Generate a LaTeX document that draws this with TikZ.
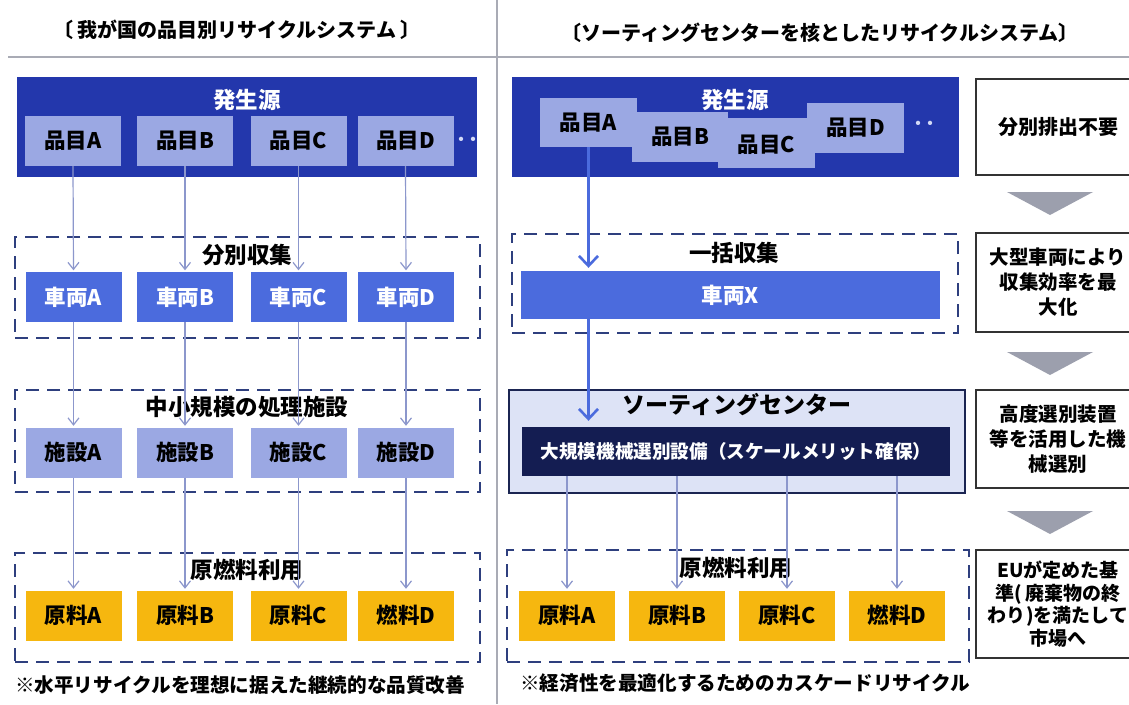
\documentclass[tikz,border=0pt]{standalone}
\usepackage{fontspec}
\setmainfont{Noto Sans CJK JP}
\usetikzlibrary{arrows.meta}
\definecolor{genblue}{HTML}{2337AC}
\definecolor{lightblue}{HTML}{9BA8E3}
\definecolor{carblue}{HTML}{4B6BDD}
\definecolor{gold}{HTML}{F6B70F}
\definecolor{scbg}{HTML}{DDE3F6}
\definecolor{scborder}{HTML}{1B2552}
\definecolor{innernavy}{HTML}{141D52}
\definecolor{dashnavy}{HTML}{2E3F7E}
\definecolor{rulegrey}{HTML}{A9ABB5}
\definecolor{trigrey}{HTML}{9C9FAD}
\definecolor{thinline}{HTML}{8C97CC}
\definecolor{dotblue}{HTML}{D3D9F6}
\definecolor{sideborder}{HTML}{333333}
\tikzset{
  box/.style={draw=none, minimum width=96pt, minimum height=50pt, inner sep=0pt,
    font=\bfseries\fontsize{21.5}{25}\selectfont},
  itembox/.style={box, fill=lightblue, text=black},
  carbox/.style={box, fill=carblue, text=white},
  facbox/.style={box, fill=lightblue, text=black},
  matbox/.style={box, fill=gold, text=black},
  srcbox/.style={fill=genblue, draw=none, inner sep=0pt},
  srctitle/.style={text=white, inner sep=0pt, font=\bfseries\fontsize{22.5}{26}\selectfont},
  dashbox/.style={draw=dashnavy, dash pattern=on 13pt off 8pt, line width=2.6pt, inner sep=0pt},
  grouptitle/.style={text=black, inner sep=0pt, font=\bfseries\fontsize{22.5}{26}\selectfont},
  titletext/.style={text=black, inner sep=0pt, font=\bfseries\fontsize{20}{24}\selectfont},
  notetext/.style={text=black, inner sep=0pt, anchor=west, font=\bfseries\fontsize{19.6}{23}\selectfont},
  sidebox/.style={draw=sideborder, line width=1.5pt, fill=white, align=center, inner sep=0pt,
    minimum width=164pt},
  rule/.style={draw=rulegrey, line width=2pt},
  tri/.style={fill=trigrey},
  thinarrow/.style={draw=thinline, line width=1.2pt, -{Straight Barb[length=7pt,width=11pt]}},
  thickarrow/.style={draw=carblue, line width=2.6pt, -{Straight Barb[length=10pt,width=19pt]}},
  dots/.style={text=dotblue, inner sep=0pt, font=\bfseries\fontsize{24}{26}\selectfont},
}
\begin{document}
\begin{tikzpicture}[x=1pt,y=-1pt]
\useasboundingbox (0,0) rectangle (1129,704);
\fill[white] (0,0) rectangle (1129,704);

% headers and rules
\node[titletext] (titleL) at (237,30) {〔\hspace{4pt}我が国の品目別リサイクルシステム\hspace{4pt}〕};
\node[titletext] (titleR) at (820,33) {〔ソーティングセンターを核としたリサイクルシステム〕};
\draw[rule] (8,57) -- (1129,57);
\draw[rule] (497,0) -- (497,704);

% ===== LEFT =====
\node[srcbox, minimum width=460pt, minimum height=100pt] (srcL) at (247,127) {};
\node[srctitle] (srcLt) at (247,100) {発生源};
\node[itembox] (iA) at (73,141) {品目A};
\node[itembox] (iB) at (185,141) {品目B};
\node[itembox] (iC) at (298.5,141) {品目C};
\node[itembox] (iD) at (405.5,141) {品目D};
\node[dots] (dotsL) at (467,143) {‥};

\node[dashbox, minimum width=465pt, minimum height=101pt] (gCar) at (247.5,287.5) {};
\node[grouptitle] (gCart) at (247,255) {分別収集};
\node[carbox] (cA) at (73.5,297) {車両A};
\node[carbox] (cB) at (185,297) {車両B};
\node[carbox] (cC) at (298.5,297) {車両C};
\node[carbox] (cD) at (406,297) {車両D};

\node[dashbox, minimum width=465pt, minimum height=102pt] (gFac) at (247.5,441) {};
\node[grouptitle] (gFact) at (247,407) {中小規模の処理施設};
\node[facbox] (fA) at (73.5,452.5) {施設A};
\node[facbox] (fB) at (185,452.5) {施設B};
\node[facbox] (fC) at (298.5,452.5) {施設C};
\node[facbox] (fD) at (406,452.5) {施設D};

\node[dashbox, minimum width=465pt, minimum height=109pt] (gMatL) at (247.5,607.5) {};
\node[grouptitle] (gMatLt) at (247,570) {原燃料利用};
\node[matbox] (mA) at (73.5,615.5) {原料A};
\node[matbox] (mB) at (185,615.5) {原料B};
\node[matbox] (mC) at (298.5,615.5) {原料C};
\node[matbox] (mD) at (406,615.5) {燃料D};

\node[notetext] (noteL) at (15,685) {※水平リサイクルを理想に据えた継続的な品質改善};

\foreach \a/\b in {iA/cA,iB/cB,iC/cC,iD/cD,cA/fA,cB/fB,cC/fC,cD/fD,fA/mA,fB/mB,fC/mC,fD/mD}{
  \draw[thinarrow, shorten >=1.5pt] (\a.south) -- (\b.north);
}

% ===== RIGHT =====
\node[srcbox, minimum width=447pt, minimum height=100pt] (srcR) at (735.5,127) {};
\node[srctitle] (srcRt) at (735,100) {発生源};
\node[itembox, minimum width=97pt, minimum height=49pt] (rA) at (588.5,122.5) {};
\node[itembox, minimum width=96pt, minimum height=50pt] (rB) at (680,137) {};
\node[itembox, minimum width=97pt, minimum height=50pt] (rC) at (766.5,143) {};
\node[itembox, minimum width=97pt, minimum height=50pt] (rD) at (855.5,128) {};
\node[box] (rAt) at (rA) {品目A};
\node[box] (rBt) at (rB) {品目B};
\node[box] (rCt) at ([yshift=-2pt]rC.center) {品目C};
\node[box] (rDt) at (rD) {品目D};
\node[dots] (dotsR) at (924,127) {‥};

\node[dashbox, minimum width=446pt, minimum height=99pt] (gX) at (735,283.5) {};
\node[grouptitle] (gXt) at (734,253) {一括収集};
\node[carbox, minimum width=419pt, minimum height=48pt] (carX) at (730.5,295) {車両X};

\node[draw=scborder, fill=scbg, line width=2.5pt, minimum width=456pt, minimum height=103pt, inner sep=0pt] (sc) at (737,441.5) {};
\node[grouptitle, font=\bfseries\fontsize{23}{27}\selectfont] (sct) at (737,405) {ソーティングセンター};
\node[fill=innernavy, text=white, minimum width=428pt, minimum height=49pt, inner sep=0pt,
  font=\bfseries\fontsize{18.6}{22}\selectfont] (inner) at (736,451.5) {大規模機械選別設備（スケールメリット確保）};

\node[dashbox, minimum width=462pt, minimum height=112pt] (gMatR) at (738,606) {};
\node[grouptitle] (gMatRt) at (736,568) {原燃料利用};
\node[matbox] (nA) at (567,615.5) {原料A};
\node[matbox] (nB) at (677,615.5) {原料B};
\node[matbox] (nC) at (787,615.5) {原料C};
\node[matbox] (nD) at (897,615.5) {燃料D};

\node[notetext] (noteR) at (520,683) {※経済性を最適化するためのカスケードリサイクル};

\draw[thickarrow, shorten >=3pt] (rA.south) -- (carX.north -| rA.south);
\draw[thickarrow, shorten >=6pt] (carX.south -| rA.south) -- (inner.north -| rA.south);
\foreach \b in {nA,nB,nC,nD}{
  \draw[thinarrow, shorten >=1.5pt] (inner.south -| \b.north) -- (\b.north);
}

% ===== SIDE COLUMN =====
\node[sidebox, minimum height=96pt, font=\bfseries\fontsize{20}{25}\selectfont] (s1) at (1058,127) {分別排出不要};
\node[sidebox, minimum height=99pt, font=\bfseries\fontsize{19.5}{25}\selectfont] (s2) at (1058,282.5) {大型車両により\\収集効率を最\\大化};
\node[sidebox, minimum height=98pt, font=\bfseries\fontsize{19.5}{25}\selectfont] (s3) at (1058,439) {高度選別装置\\等を活用した機\\械選別};
\node[sidebox, minimum height=108pt, font=\bfseries\fontsize{19}{22.5}\selectfont] (s4) at (1058,604) {EUが定めた基\\準( 廃棄物の終\\わり)を満たして\\市場へ};

\fill[tri] (1007,192) -- (1093,192) -- (1050,215) -- cycle;
\fill[tri] (1007,352) -- (1093,352) -- (1050,375) -- cycle;
\fill[tri] (1007,511) -- (1093,511) -- (1050,534) -- cycle;
\end{tikzpicture}
\end{document}
